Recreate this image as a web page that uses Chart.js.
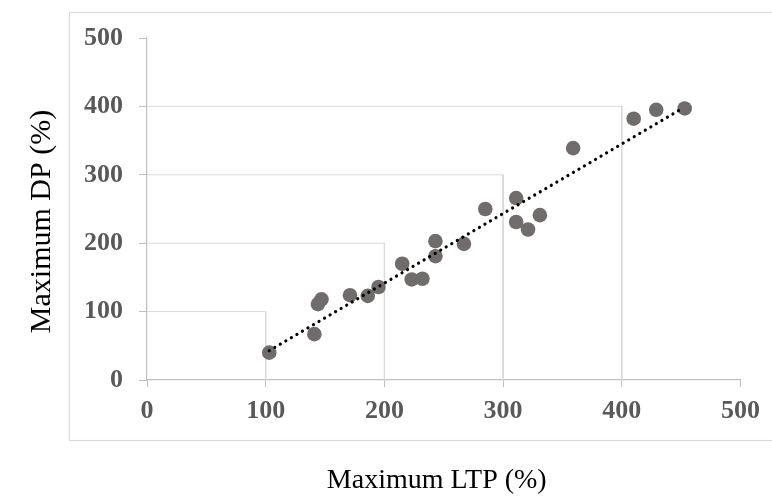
<!DOCTYPE html>
<html>
<head>
<meta charset="utf-8">
<script src="https://cdn.jsdelivr.net/npm/chart.js@4"></script>
<style>
html,body{margin:0;padding:0;background:#fff;}
#wrap{position:relative;width:772px;height:504px;}
</style>
</head>
<body>
<div id="wrap"><canvas id="c" width="772" height="504"></canvas></div>
<script>
// Data
const ltp = [103, 141, 144, 147, 171, 186, 195, 215, 223, 232, 243, 243, 267, 285, 311, 311, 321, 331, 359, 410, 429, 453];
const dp  = [ 40,  67, 111, 118, 124, 123, 136, 170, 147, 148, 181, 203, 199, 250, 266, 231, 220, 241, 339, 382, 395, 397];
const trendX = [103, 452];
const trendY = [43, 398];
const xTicks = [0, 100, 200, 300, 400, 500];
const yTicks = [0, 100, 200, 300, 400, 500];
const gridLevels = [100, 200, 300, 400];
const xTitle = 'Maximum LTP (%)';
const yTitle = 'Maximum DP (%)';

const points = ltp.map((x, i) => ({x: x, y: dp[i]}));
const trend = trendX.map((x, i) => ({x: x, y: trendY[i]}));
const gridSets = gridLevels.map(k => ({
  data: [{x: 0, y: k}, {x: k, y: k}, {x: k, y: 0}],
  showLine: true, borderColor: '#d9d9d9', borderWidth: 1,
  pointRadius: 0, pointHoverRadius: 0, fill: false, tension: 0, order: 2
}));

const framePlugin = {
  id: 'frame',
  beforeDraw(chart) {
    const ctx = chart.ctx;
    ctx.save();
    ctx.strokeStyle = '#d9d9d9';
    ctx.lineWidth = 1.2;
    ctx.strokeRect(69.5, 12.5, 760, 428);
    ctx.restore();
  },
  afterDraw(chart) {
    const ctx = chart.ctx;
    const a = chart.chartArea;
    ctx.save();
    ctx.fillStyle = '#000';
    ctx.textAlign = 'center';
    ctx.textBaseline = 'middle';
    ctx.font = '28px "Liberation Serif", "Times New Roman", serif';
    ctx.fillText(xTitle, (a.left + a.right) / 2 - 7, 480.5);
    ctx.translate(42, (a.top + a.bottom) / 2 + 12.5);
    ctx.rotate(-Math.PI / 2);
    ctx.font = '30px "Liberation Serif", "Times New Roman", serif';
    ctx.fillText(yTitle, 0, 0);
    ctx.restore();
  }
};

const tickFont = {family: '"Liberation Serif", "Times New Roman", serif', size: 26, weight: 'bold'};

new Chart(document.getElementById('c'), {
  type: 'scatter',
  data: {
    datasets: [
      {
        data: trend, showLine: true, borderColor: '#000', borderWidth: 3.2,
        borderDash: [0.01, 6.4], borderCapStyle: 'round', pointRadius: 0,
        pointHoverRadius: 0, fill: false, tension: 0, order: 0
      },
      {
        data: points, showLine: false, pointRadius: 7.3, pointHoverRadius: 7.3,
        pointBackgroundColor: '#706c6c', pointBorderColor: '#706c6c', pointBorderWidth: 0,
        order: 1
      },
      ...gridSets
    ]
  },
  plugins: [framePlugin],
  options: {
    responsive: false,
    animation: false,
    devicePixelRatio: 1,
    events: [],
    layout: {padding: {left: 0, top: 38, right: 31.5, bottom: 0}},
    plugins: {legend: {display: false}, tooltip: {enabled: false}},
    scales: {
      x: {
        type: 'linear', min: 0, max: 500,
        afterBuildTicks: s => { s.ticks = xTicks.map(v => ({value: v})); },
        afterFit: s => { s.height = 124; },
        ticks: {font: tickFont, color: '#595959', padding: 9, maxRotation: 0, autoSkip: false},
        grid: {drawOnChartArea: false, drawTicks: true, tickLength: 7, tickColor: '#bfbfbf', color: '#bfbfbf'},
        border: {display: true, color: '#bfbfbf', width: 1.2}
      },
      y: {
        type: 'linear', min: 0, max: 500,
        afterBuildTicks: s => { s.ticks = yTicks.map(v => ({value: v})); },
        afterFit: s => { s.width = 147; },
        ticks: {font: tickFont, color: '#595959', padding: 16, autoSkip: false},
        grid: {drawOnChartArea: false, drawTicks: true, tickLength: 8, tickColor: '#bfbfbf', color: '#bfbfbf'},
        border: {display: true, color: '#bfbfbf', width: 1.2}
      }
    }
  }
});
</script>
</body>
</html>
